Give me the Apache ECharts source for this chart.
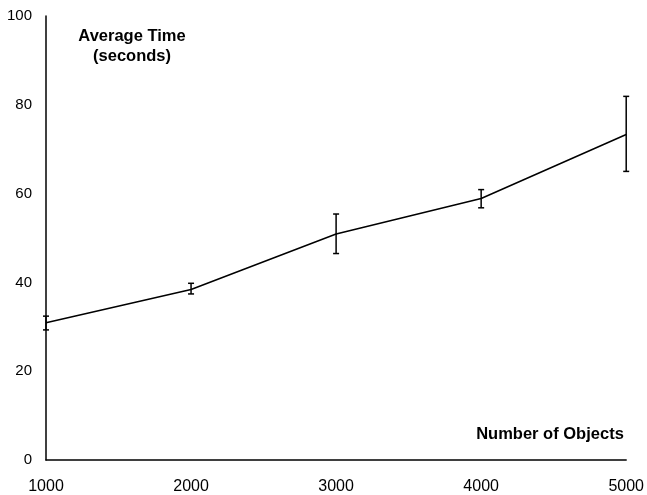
<!DOCTYPE html>
<html>
<head>
<meta charset="utf-8">
<script src="https://cdn.jsdelivr.net/npm/echarts@6/dist/echarts.min.js"></script>
<style>html,body{margin:0;padding:0;background:#fff}#c{width:647px;height:495px}</style>
</head>
<body>
<div id="c"></div>
<script>
var objects = [1000, 2000, 3000, 4000, 5000];
var avgTime = [30.9, 38.4, 50.9, 58.9, 73.3];
var errLow = [29.3, 37.4, 46.5, 56.8, 65.0];
var errHigh = [32.4, 39.8, 55.4, 60.9, 81.9];
var yTitle = ['Average Time', '(seconds)'];
var xTitle = 'Number of Objects';

var chart = echarts.init(document.getElementById('c'), null, {renderer: 'canvas'});
var font = '"Liberation Sans", Arial, Helvetica, sans-serif';
var lineData = objects.map(function (x, i) { return [x, avgTime[i]]; });
var errData = objects.map(function (x, i) { return [x, errLow[i], errHigh[i]]; });

chart.setOption({
  animation: false,
  backgroundColor: '#fff',
  grid: {left: 46, right: 18.5, top: 16, bottom: 32.5},
  title: [
    {text: yTitle.join('\n'), left: 127, top: 21, textAlign: 'center',
     textStyle: {fontFamily: font, fontSize: 16.5, fontWeight: 'bold', color: '#000', lineHeight: 20, align: 'center'}},
    {text: xTitle, left: 545, top: 421, textAlign: 'center',
     textStyle: {fontFamily: font, fontSize: 16.5, fontWeight: 'bold', color: '#000'}}
  ],
  xAxis: {
    type: 'value', min: 1000, max: 5000, interval: 1000,
    axisLine: {show: true, onZero: false, lineStyle: {color: '#000', width: 1.5}},
    axisTick: {show: false},
    splitLine: {show: false},
    axisLabel: {color: '#000', fontFamily: font, fontSize: 16, margin: 19,
      showMinLabel: true, showMaxLabel: true,
      formatter: function (v) { return String(v); }}
  },
  yAxis: {
    type: 'value', min: 0, max: 100, interval: 20,
    axisLine: {show: true, lineStyle: {color: '#000', width: 1.5}},
    axisTick: {show: false},
    splitLine: {show: false},
    axisLabel: {color: '#000', fontFamily: font, fontSize: 15, margin: 14}
  },
  series: [
    {
      type: 'line', data: lineData, symbol: 'none',
      lineStyle: {color: '#000', width: 1.5}, z: 3
    },
    {
      type: 'custom', data: errData, z: 4,
      renderItem: function (params, api) {
        var x = api.value(0);
        var lo = api.coord([x, api.value(1)]);
        var hi = api.coord([x, api.value(2)]);
        var w = 3;
        var st = {stroke: '#000', lineWidth: 1.5};
        return {
          type: 'group',
          children: [
            {type: 'line', shape: {x1: hi[0], y1: hi[1], x2: lo[0], y2: lo[1]}, style: st},
            {type: 'line', shape: {x1: hi[0] - w, y1: hi[1], x2: hi[0] + w, y2: hi[1]}, style: st},
            {type: 'line', shape: {x1: lo[0] - w, y1: lo[1], x2: lo[0] + w, y2: lo[1]}, style: st}
          ]
        };
      }
    }
  ]
});
</script>
</body>
</html>
